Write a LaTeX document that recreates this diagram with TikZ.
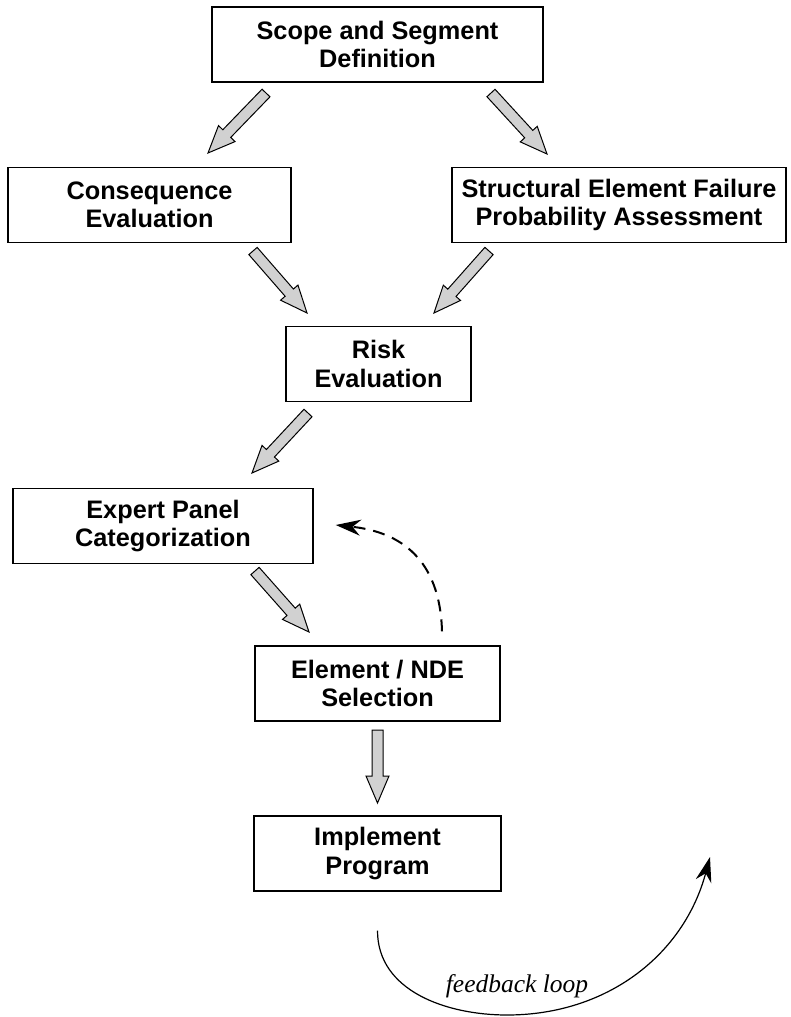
\documentclass[tikz,border=0pt]{standalone}
\usepackage{fontspec}
\setmainfont{Liberation Sans}
\newfontfamily\loopfont{Liberation Serif}
\usetikzlibrary{arrows.meta, calc}

\begin{document}
\begin{tikzpicture}[x=1pt, y=1pt, >={Stealth[length=25pt, width=16pt]},
  stage/.style={rectangle, draw, line width=1.4pt, align=center, inner sep=0pt,
    minimum height=75pt, font=\fontsize{25.3}{28.5}\selectfont\bfseries},
  blockarrow/.style={draw=black, fill=black!18, line width=1pt, line join=miter}]

  \useasboundingbox (0,0) rectangle (790,-1017);

  \node[stage, minimum width=331pt] (scope) at (377.5,-44.5) {Scope and Segment\\Definition};
  \node[stage, minimum width=283pt] (conseq) at (149.5,-205) {Consequence\\Evaluation};
  \node[stage, minimum width=334pt] (struct) at (619,-205) {Structural Element Failure\\Probability Assessment};
  \node[stage, minimum width=185pt] (risk) at (378.5,-364) {Risk\\Evaluation};
  \node[stage, minimum width=300pt] (expert) at (163,-526) {Expert Panel\\Categorization};
  \node[stage, minimum width=245pt] (element) at (377.5,-683.5) {Element / NDE\\Selection};
  \node[stage, minimum width=247pt] (implement) at (377.5,-853.5) {Implement\\Program};

  % block arrows
  \coordinate (s1) at (266,-93);   \coordinate (e1) at (208,-153);
  \coordinate (s2) at (491,-93);   \coordinate (e2) at (547,-154);
  \coordinate (s3) at (253,-251);  \coordinate (e3) at (307,-313);
  \coordinate (s4) at (489,-251);  \coordinate (e4) at (434,-313);
  \coordinate (s5) at (308,-413);  \coordinate (e5) at (252,-473);
  \coordinate (s6) at (255,-571);  \coordinate (e6) at (309,-632);
  \coordinate (s7) at (377.5,-730); \coordinate (e7) at (377.5,-803);

  \foreach \a/\b in {s1/e1, s2/e2, s3/e3, s4/e4, s5/e5, s6/e6, s7/e7} {
    \coordinate (h) at ($(\b)!27pt!(\a)$);
    \filldraw[blockarrow] ($(\a)!5.5pt!90:(\b)$) -- ($(h)!5.5pt!-90:(\a)$)
      -- ($(h)!11.5pt!-90:(\a)$) -- (\b) -- ($(h)!11.5pt!90:(\a)$)
      -- ($(h)!5.5pt!90:(\a)$) -- ($(\a)!5.5pt!-90:(\b)$) -- cycle;
  }

  % dashed return
  \coordinate (dstart) at ($(element.north)+(64.5,14)$);
  \coordinate (dend) at ($(expert.east)+(22,1)$);
  \draw[->, line width=2pt, dash pattern=on 12pt off 8pt]
    (dstart) .. controls +(-2,72) and +(65,-7) .. (dend);

  % feedback loop
  \coordinate (loopstart) at ($(implement.south)+(0,-39)$);
  \coordinate (loopbottom) at (507,-1015);
  \coordinate (loopend) at (710,-857);
  \draw[->, line width=1.2pt] (loopstart) to[out=-90, in=180] (loopbottom)
    to[out=0, in=-105] (loopend);
  \node[font=\loopfont\itshape\fontsize{25.5}{30}\selectfont] (looplabel) at (517,-986) {feedback loop};
\end{tikzpicture}
\end{document}
